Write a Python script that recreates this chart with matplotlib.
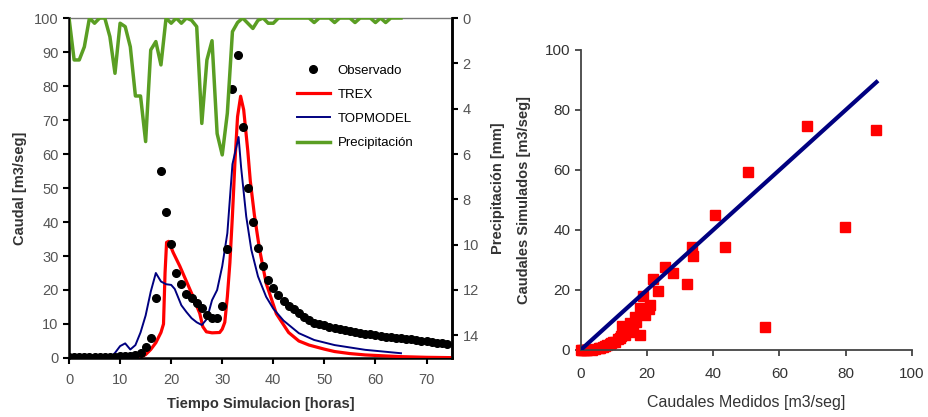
import numpy as np
import matplotlib
matplotlib.use('Agg')
import matplotlib.pyplot as plt

plt.rcParams['font.family'] = ['Liberation Sans', 'DejaVu Sans']

# observed discharge, hourly from t=0
obs_t = np.arange(0, 75)
obs_q = [0.3, 0.3, 0.3, 0.3, 0.3, 0.3, 0.3, 0.4, 0.4, 0.4, 0.5,
         0.5, 0.7, 0.9, 1.5, 3.2, 6.0, 17.5, 55.0, 43.0, 33.5,
         25.0, 21.7, 18.8, 17.7, 16.1, 14.8, 12.6, 11.7, 11.7, 15.3,
         32.0, 79.0, 89.0, 68.0, 50.0, 40.0, 32.5, 27.2, 23.0, 20.5,
         18.5, 16.8, 15.3, 14.4, 13.1, 12.2, 11.2, 10.4, 9.9, 9.6,
         9.2, 8.8, 8.5, 8.2, 7.9, 7.6, 7.4, 7.2, 7.0, 6.8,
         6.6, 6.3, 6.1, 5.9, 5.8, 5.6, 5.5, 5.3, 5.1, 4.9,
         4.7, 4.5, 4.3, 4.1]

# TREX simulation
trex_t = [0, 13, 14, 15, 16, 17, 18, 18.5, 18.8, 19.1, 19.5, 20.4, 21.7, 23, 24.3,
          25.6, 26.2, 26.9, 28, 29.5, 30, 30.5, 31, 31.5, 32, 32.5, 33, 33.6,
          34.2, 35, 35.5, 36.3, 37.3, 38.6, 40.6, 43, 45, 47, 50, 52, 55, 58,
          62, 65, 70, 75]
trex_q = [0, 0, 0.3, 1.0, 2.5, 4.5, 7.5, 10, 25, 34, 34.3, 31, 27, 22.5, 18,
          13.1, 9.2, 7.7, 7.4, 7.5, 8.5, 10.5, 18, 28, 42, 58, 71, 77,
          73, 61, 52, 42, 32, 22, 13, 7.5, 5, 3.8, 2.6, 1.9, 1.3, 0.9,
          0.6, 0.4, 0.2, 0.1]

# TOPMODEL simulation
top_t = [0, 8, 9, 10, 11, 12, 13, 14, 15, 16, 17, 18, 19, 20, 20.7, 22, 23, 24, 25,
         26, 27, 28, 29, 30, 31, 32, 33.2, 33.7, 34.7, 35.7, 37, 38.6, 40, 42,
         45, 48, 52, 58, 65]
top_q = [0, 0, 1.5, 3.5, 4.3, 2.5, 3.8, 7.5, 12.5, 19.5, 25, 22.5, 21.7, 21.5, 20.3,
         15.5, 13.5, 11.7, 10.5, 9.7, 11.5, 17, 20, 27, 36.7, 57, 65, 56, 41.6,
         31.8, 24, 18, 14.5, 11, 7.3, 5.3, 3.8, 2.4, 1.4]

# precipitation [mm], hourly
precip_t = np.arange(0, 66)
precip = [0, 1.85, 1.85, 1.27, 0, 0.23, 0, 0, 0.82, 2.44,
          0.23, 0.38, 1.27, 3.44, 3.44, 5.45, 1.41, 1.04, 2.07, 0,
          0.23, 0, 0.23, 0, 0.1, 0.38, 4.65, 1.85, 1.0, 5.1,
          6.04, 4.2, 0.6, 0.2, 0, 0.23, 0.46, 0.1, 0, 0.23,
          0.23, 0, 0, 0, 0, 0, 0, 0, 0.2, 0,
          0, 0, 0.2, 0, 0, 0, 0.2, 0, 0, 0,
          0.2, 0, 0.2, 0, 0, 0]

# measured vs simulated (TREX)
scat_obs = [89.3, 79.8, 68.2, 55.8, 50.4, 43.6, 40.7, 33.5, 34.0, 32.1, 27.9, 25.4,
            23.4, 21.9, 20.9, 19.4, 18.9, 17.9, 17.9, 16.8, 15.8, 14.9, 13.4, 12.4,
            11.9, 10.4, 8.8, 7.3, 5.8, 4.3, 3.3, 2.0, 0.5, 0,
            16.5, 15.0, 14.4, 13.1, 12.2, 11.2, 9.9, 9.2, 7.9, 6.8, 5.5, 1.5, 1.0, 20.5]
scat_sim = [73.3, 40.9, 74.7, 7.8, 59.4, 34.4, 45.0, 34.4, 31.3, 22.0, 25.8, 27.6,
            19.7, 23.6, 15.0, 11.7, 18.0, 14.1, 5.0, 9.4, 7.8, 6.1, 5.0, 8.0,
            3.9, 2.8, 2.0, 1.3, 0.8, 0.3, 0, 0, 0, 0,
            11.0, 9.0, 6.5, 5.5, 4.5, 3.5, 2.5, 2.2, 1.5, 1.0, 0.6, 0.1, 0, 13.5]
line_max = 89.3

txt = '#333333'
tick_gray = '#555555'

fig = plt.figure(figsize=(9.29, 4.17), dpi=100)

# ---- left: hydrograph ----
ax = fig.add_axes([0.0743, 0.1415, 0.4123, 0.8153])
l_obs, = ax.plot(obs_t, obs_q, 'o', color='black', markersize=5.5, label='Observado', zorder=4)
l_trex, = ax.plot(trex_t, trex_q, color='#ff0000', lw=2.3, label='TREX', zorder=3)
l_top, = ax.plot(top_t, top_q, color='#000080', lw=1.4, label='TOPMODEL', zorder=3)
ax.set_xlim(0, 75)
ax.set_ylim(0, 100)
ax.set_xticks(np.arange(0, 80, 10))
ax.set_yticks(np.arange(0, 110, 10))
ax.tick_params(direction='out', length=4, width=1.5, labelsize=10.5, labelcolor=tick_gray)
ax.tick_params(axis='x', pad=7)
for s in ['left', 'bottom', 'right']:
    ax.spines[s].set_linewidth(1.8)
ax.spines['top'].set_color('#777777')
ax.spines['top'].set_linewidth(1.0)
ax.set_xlabel('Tiempo Simulacion [horas]', fontsize=10.5, fontweight='bold', color=txt, labelpad=7)
ax.set_ylabel('Caudal [m3/seg]', fontsize=10.5, fontweight='bold', color=txt, labelpad=5)

ax2 = ax.twinx()
l_pr, = ax2.plot(precip_t, precip, color='#5a9e23', lw=2.5, label='Precipitación')
ax2.set_ylim(15, 0)
ax2.set_yticks(np.arange(0, 16, 2))
ax2.tick_params(direction='out', length=4, width=1.5, labelsize=10.5, labelcolor=tick_gray)
ax2.spines['right'].set_linewidth(1.8)
ax2.spines['top'].set_visible(False)
ax2.set_ylabel('Precipitación [mm]', fontsize=10.5, fontweight='bold', color=txt, labelpad=9)

ax2.legend(handles=[l_obs, l_trex, l_top, l_pr], loc='upper left', bbox_to_anchor=(0.57, 0.89),
           frameon=False, fontsize=9.5, handlelength=2.5, handletextpad=0.6,
           labelspacing=0.9, borderpad=0.2)

# ---- right: scatter ----
bx = fig.add_axes([0.625, 0.1607, 0.3566, 0.7194])
bx.plot([0, line_max], [0, line_max], color='#000080', lw=3, zorder=3)
bx.plot(scat_obs, scat_sim, 's', color='#ff0000', markersize=6.5, zorder=2, clip_on=False)
bx.set_xlim(0, 100)
bx.set_ylim(0, 100)
bx.set_xticks(np.arange(0, 120, 20))
bx.set_yticks(np.arange(0, 120, 20))
bx.spines['top'].set_visible(False)
bx.spines['right'].set_visible(False)
for s in ['left', 'bottom']:
    bx.spines[s].set_linewidth(1.3)
    bx.spines[s].set_color('#444444')
bx.tick_params(direction='out', length=4, width=1.3, labelsize=11, labelcolor=txt, color='#444444')
bx.tick_params(axis='x', pad=8)
bx.set_xlabel('Caudales Medidos [m3/seg]', fontsize=11.5, color=txt, labelpad=10)
bx.set_ylabel('Caudales Simulados [m3/seg]', fontsize=10.5, fontweight='bold', color=txt, labelpad=10)

fig.savefig('out.png', dpi=100)
